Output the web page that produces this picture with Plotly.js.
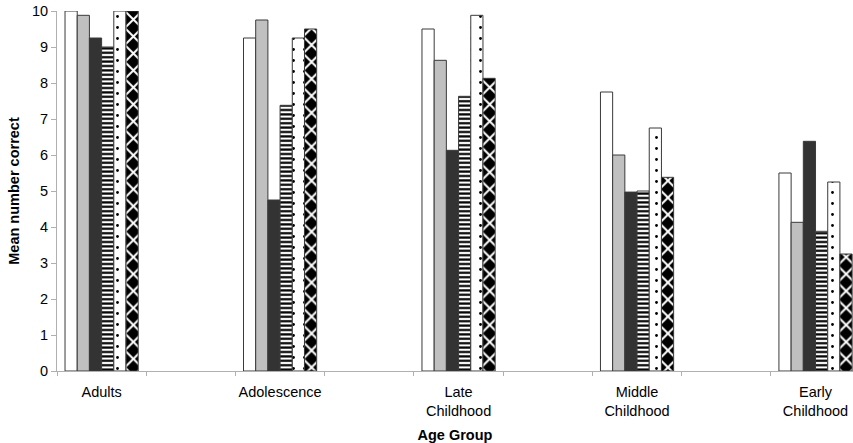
<!DOCTYPE html>
<html>
<head>
<meta charset="utf-8">
<script src="https://cdn.plot.ly/plotly-3.0.1.min.js"></script>
<style>html,body{margin:0;padding:0;background:#fff;}#chart{width:853px;height:443px;}</style>
</head>
<body>
<div id="chart"></div>
<script>
// Data
const categories = ["Adults", "Adolescence", "Late<br>Childhood", "Middle<br>Childhood", "Early<br>Childhood"];
const whiteBars   = [10.0, 9.25, 9.5, 7.75, 5.5];
const grayBars    = [9.88, 9.75, 8.63, 6.0, 4.13];
const darkBars    = [9.25, 4.75, 6.13, 4.97, 6.38];
const stripeBars  = [9.0, 7.38, 7.63, 5.0, 3.88];
const dotBars     = [10.0, 9.25, 9.88, 6.75, 5.25];
const diamondBars = [10.0, 9.5, 8.13, 5.38, 3.25];
const yTicks = [0, 1, 2, 3, 4, 5, 6, 7, 8, 9, 10];

// Category order with blank spacer categories between groups (as in the original)
const catArray = [];
categories.forEach((c, i) => {
  catArray.push(c);
  if (i < categories.length - 1) catArray.push(" ".repeat(i + 1));
});

const outline = {color: "#3a3a3a", width: 1};
function barTrace(y, marker) {
  return {
    type: "bar", x: categories, y: y, showlegend: false, hoverinfo: "y",
    marker: Object.assign({line: outline}, marker)
  };
}

const traces = [
  {type: "scatter", mode: "none", x: catArray, y: catArray.map(() => null), showlegend: false, hoverinfo: "skip"},
  barTrace(whiteBars, {color: "#ffffff"}),
  barTrace(grayBars, {color: "#c0c0c0"}),
  barTrace(darkBars, {color: "#333333"}),
  barTrace(stripeBars, {color: "#ffffff", pattern: {shape: "-", fillmode: "replace", fgcolor: "#000000", bgcolor: "#ffffff", size: 4.4, solidity: 0.5}}),
  barTrace(dotBars, {color: "#ffffff", pattern: {shape: ".", fillmode: "replace", fgcolor: "#000000", bgcolor: "#ffffff", size: 11, solidity: 0.05}}),
  barTrace(diamondBars, {color: "#ffffff", pattern: {shape: "x", fillmode: "replace", fgcolor: "#ffffff", bgcolor: "#000000", size: 12, solidity: 0.3}})
];

const fontFam = "Liberation Sans, Arial, sans-serif";
const layout = {
  width: 853, height: 443,
  margin: {l: 57, r: 0, t: 11, b: 72},
  paper_bgcolor: "#ffffff", plot_bgcolor: "#ffffff",
  font: {family: fontFam, size: 14.5, color: "#000000"},
  barmode: "group", bargap: 0.18, bargroupgap: 0,
  xaxis: {
    type: "category", categoryorder: "array", categoryarray: catArray,
    range: [-0.5, 8.42], tickson: "boundaries", ticks: "outside", ticklen: 4,
    tickcolor: "#b0b0b0", showline: true, linecolor: "#b0b0b0", linewidth: 1,
    showgrid: false, zeroline: false, fixedrange: true, automargin: false,
    tickangle: 0, ticklabelstandoff: 8,
    tickfont: {family: fontFam, size: 14.5, color: "#000"},
    title: {text: "Age Group", font: {family: fontFam, size: 14.5, weight: "bold", color: "#000"}, standoff: 11}
  },
  yaxis: {
    range: [0, 10], tickvals: yTicks, ticktext: yTicks.map(String), ticks: "outside", ticklen: 5,
    tickcolor: "#b0b0b0", showline: true, linecolor: "#b0b0b0", linewidth: 1,
    showgrid: false, zeroline: false, fixedrange: true, automargin: false,
    tickfont: {family: fontFam, size: 14.5, color: "#000"},
    title: {text: "Mean number correct", font: {family: fontFam, size: 14.5, weight: "bold", color: "#000"}, standoff: 8}
  }
};

Plotly.newPlot("chart", traces, layout, {displayModeBar: false, staticPlot: true});
</script>
</body>
</html>
